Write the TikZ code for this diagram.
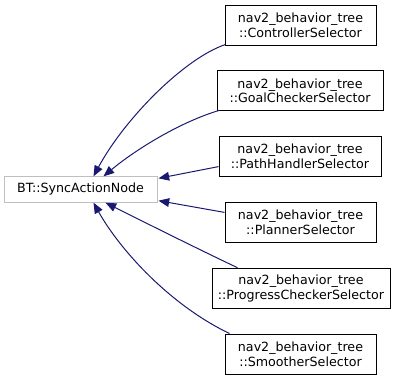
\documentclass[tikz,border=0pt]{standalone}
\usepackage{fontspec}
\setmainfont{DejaVu Sans}
\usetikzlibrary{arrows.meta,calc}
\definecolor{edgeblue}{HTML}{191970}
\definecolor{basegray}{HTML}{BFBFBF}
\begin{document}
\begin{tikzpicture}[x=0.75pt,y=-0.75pt,
  cls/.style={draw=black,line width=0.75pt,inner sep=0pt,minimum height=30pt,align=center,
    font=\fontsize{9.5}{11}\selectfont},
  base/.style={cls,draw=basegray,minimum height=19pt,minimum width=114.75pt},
  arrow/.style={-{Triangle[length=8pt,width=6.5pt]},line width=0.75pt,draw=edgeblue}
]
  \useasboundingbox (0,0) rectangle (401,379);
  \node[base] (sync) at (80.5,189.5) {BT::SyncActionNode};
  \node[cls,minimum width=113.25pt] (ctrl) at (300.5,25) {nav2\_behavior\_tree\\::ControllerSelector};
  \node[cls,minimum width=124.5pt] (goal) at (300,90.8) {nav2\_behavior\_tree\\::GoalCheckerSelector};
  \node[cls,minimum width=121.5pt] (path) at (300,156.6) {nav2\_behavior\_tree\\::PathHandlerSelector};
  \node[cls,minimum width=113.25pt] (plan) at (300.5,222.4) {nav2\_behavior\_tree\\::PlannerSelector};
  \node[cls,minimum width=133.5pt] (prog) at (301,288.2) {nav2\_behavior\_tree\\::ProgressCheckerSelector};
  \node[cls,minimum width=113.25pt] (smooth) at (300.5,354) {nav2\_behavior\_tree\\::SmootherSelector};
  % inheritance edges, child -> base
  \draw[arrow] ($(ctrl.south west)+(1,-1)$) .. controls (185,58) and (125,118) .. ($(sync.north)+(13,0)$);
  \draw[arrow] ($(goal.south west)+(3,-1)$) .. controls (180,122) and (135,150) .. ($(sync.north)+(23,0)$);
  \draw[arrow] ($(path.west)+(0,10)$) -- ($(sync.north east)+(1,2)$);
  \draw[arrow] ($(plan.west)+(0,-10)$) -- ($(sync.south east)+(1,-2)$);
  \draw[arrow] ($(prog.north west)+(26,0)$) .. controls (200,250) and (140,220) .. ($(sync.south)+(25,0)$);
  \draw[arrow] ($(smooth.north west)+(5,0)$) .. controls (170,305) and (120,250) .. ($(sync.south)+(13,0)$);
\end{tikzpicture}
\end{document}
